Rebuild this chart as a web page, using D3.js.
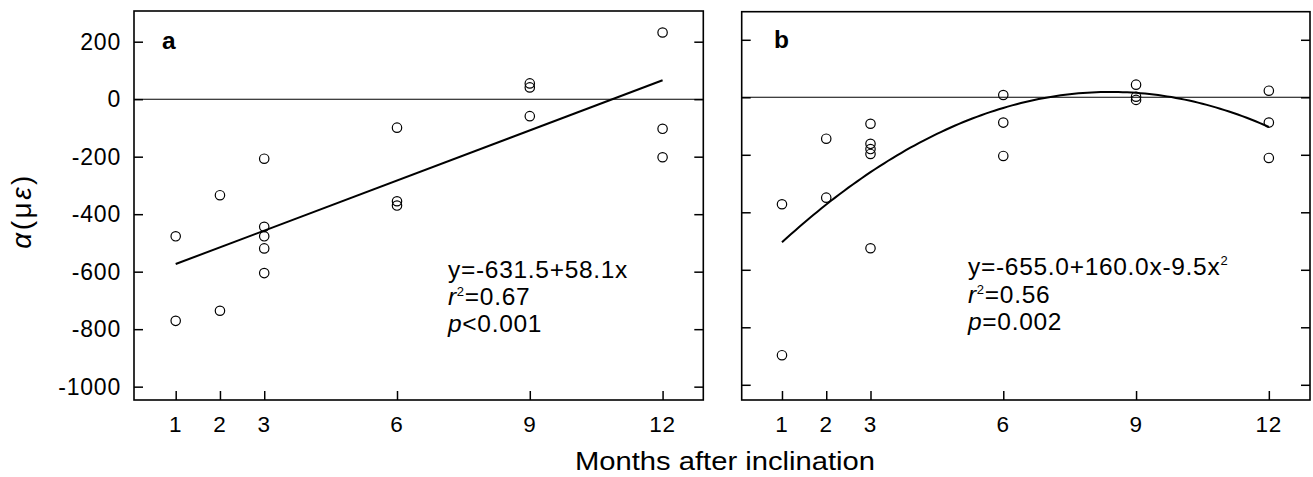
<!DOCTYPE html>
<html><head><meta charset="utf-8">
<script src="https://cdn.jsdelivr.net/npm/d3@7"></script>
<style>body{margin:0;background:#fff}svg{display:block}text{font-family:"Liberation Sans",Arial,sans-serif;fill:#000}</style>
</head><body>
<script>
const xTicks = [1,2,3,6,9,12];
const yTicks = [200,0,-200,-400,-600,-800,-1000];
const monthsA = [1,1,2,2,3,3,3,3,3,6,6,6,9,9,9,12,12,12];
const valuesA = [-477,-771,-334,-736,-207,-444,-477,-519,-605,-99,-355,-370,55,41,-59,232,-103,-202];
const monthsB = [1,1,2,2,3,3,3,3,3,6,6,6,9,9,9,12,12,12];
const valuesB = [-372,-897,-144,-349,-92,-162,-180,-197,-525,8,-88,-204,44,2,-9,23,-88,-211];
const fitA = [-631.5, 58.1];
const fitB = [-655.0, 160.0, -9.5];
const statsA = ["y=-631.5+58.1x", "0.67", "<0.001"];
const statsB = ["y=-655.0+160.0x-9.5x", "0.56", "=0.002"];

const W = 1313, H = 477;
const svg = d3.select("body").append("svg").attr("width", W).attr("height", H);

const panels = [
  {label:"a", months:monthsA, values:valuesA, fit:fitA, stats:statsA, quad:false,
   xd:[0.058,12.92], xr:[134,703.3], yd:[-1046.4,306.8], yr:[400,11], showY:true,
   labX:162, labY:48.5, eqX:448, eqY:277.5},
  {label:"b", months:monthsB, values:valuesB, fit:fitB, stats:statsB, quad:true,
   xd:[0.09,12.93], xr:[741.7,1310], yd:[-1052.9,297.7], yr:[400,11.7], showY:false,
   labX:774, labY:48, eqX:968, eqY:275}
];

panels.forEach(p => {
  const x = d3.scaleLinear().domain(p.xd).range(p.xr);
  const y = d3.scaleLinear().domain(p.yd).range(p.yr);
  const g = svg.append("g");
  const [x0,x1] = p.xr, [y0,y1] = p.yr;
  g.append("line").attr("x1",x0).attr("x2",x1).attr("y1",y(0)).attr("y2",y(0))
    .attr("stroke","#000").attr("stroke-width",1.1);
  const yl = g.append("g").attr("transform",`translate(${x0},0)`)
    .call(d3.axisRight(y).tickValues(yTicks).tickSize(9).tickFormat(""));
  const yr = g.append("g").attr("transform",`translate(${x1},0)`)
    .call(d3.axisLeft(y).tickValues(yTicks).tickSize(9).tickFormat(""));
  const xb = g.append("g").attr("transform",`translate(0,${y0})`)
    .call(d3.axisTop(x).tickValues(xTicks).tickSize(9).tickFormat(""));
  [yl,yr,xb].forEach(a => { a.select(".domain").remove(); a.selectAll("line").attr("stroke","#000").attr("stroke-width",1.5); });
  g.selectAll(".xl").data(xTicks).enter().append("text")
    .attr("x", d => x(d)).attr("y", 431.7).attr("text-anchor","middle")
    .attr("font-size", 22.5).attr("letter-spacing", 0.8).text(d => d);
  if (p.showY) {
    g.selectAll(".yl").data(yTicks).enter().append("text")
      .attr("x", 121).attr("y", d => y(d) + 8.2).attr("text-anchor","end")
      .attr("font-size", 23).attr("letter-spacing", 0.8).text(d => d);
  }
  g.append("rect").attr("x",x0).attr("y",y1).attr("width",x1-x0).attr("height",y0-y1)
    .attr("fill","none").attr("stroke","#000").attr("stroke-width",1.6);
  const fx = d => p.fit.reduce((s,c,i) => s + c*Math.pow(d,i), 0);
  const xs = p.quad ? d3.range(1, 12.001, 0.1) : [1,12];
  g.append("path").datum(xs)
    .attr("d", d3.line().x(d => x(d)).y(d => y(fx(d))))
    .attr("fill","none").attr("stroke","#000").attr("stroke-width",2);
  g.selectAll(".pt").data(p.values).enter().append("circle")
    .attr("cx", (d,i) => x(p.months[i])).attr("cy", d => y(d)).attr("r", 4.7)
    .attr("fill","none").attr("stroke","#000").attr("stroke-width",1.2);
  g.append("text").attr("x",p.labX).attr("y",p.labY).attr("font-size",24.5)
    .attr("font-weight","bold").text(p.label);
  const fs = 24.5, ls = 0.7;
  const t1 = g.append("text").attr("x",p.eqX).attr("y",p.eqY).attr("font-size",fs).attr("letter-spacing",ls);
  t1.append("tspan").text(p.stats[0]);
  if (p.quad) t1.append("tspan").attr("font-size",13).attr("dy",-10).text("2");
  const t2 = g.append("text").attr("x",p.eqX).attr("y",p.eqY+27.5).attr("font-size",fs).attr("letter-spacing",ls);
  t2.append("tspan").attr("font-style","italic").text("r");
  t2.append("tspan").attr("font-size",13).attr("dy",-9).text("2");
  t2.append("tspan").attr("dy",9).text("=" + p.stats[1]);
  const t3 = g.append("text").attr("x",p.eqX).attr("y",p.eqY+54.5).attr("font-size",fs).attr("letter-spacing",ls);
  t3.append("tspan").attr("font-style","italic").text("p");
  t3.append("tspan").text(p.stats[2]);
});

const yt = svg.append("text").attr("transform","translate(31,211) rotate(-90)")
  .attr("text-anchor","middle").attr("font-size",28).attr("letter-spacing",2.5);
yt.append("tspan").attr("font-style","italic").text("α");
yt.append("tspan").text("(μ");
yt.append("tspan").attr("font-style","italic").text("ε");
yt.append("tspan").text(")");
svg.append("text").attr("x",725).attr("y",470).attr("text-anchor","middle")
  .attr("font-size",26).attr("textLength",300).attr("lengthAdjust","spacingAndGlyphs")
  .text("Months after inclination");
</script>
</body></html>
